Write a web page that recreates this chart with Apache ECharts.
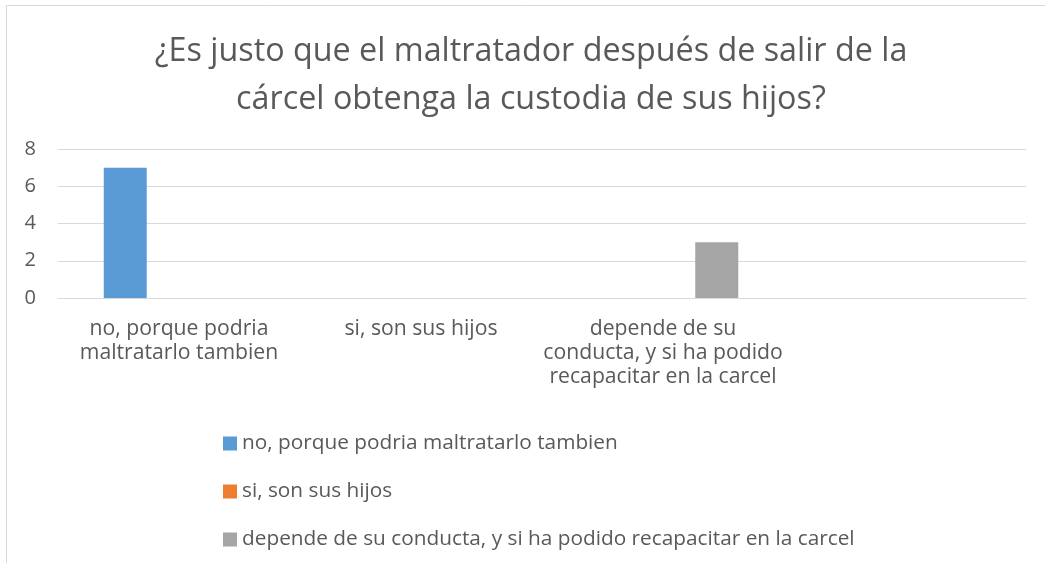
<!DOCTYPE html>
<html>
<head>
<meta charset="utf-8">
<script src="https://cdn.jsdelivr.net/npm/echarts@6/dist/echarts.min.js"></script>
<style>
  html, body { margin: 0; padding: 0; background: #fff; }
  #chart { width: 1045px; height: 563px; }
</style>
</head>
<body>
<div id="chart"></div>
<script>
  // categories (4th slot is empty in the original sheet)
  const categories = ['no, porque podria\nmaltratarlo tambien', 'si, son sus hijos', 'depende de su\nconducta, y si ha podido\nrecapacitar en la carcel', '']
  const seriesNames = ['no, porque podria maltratarlo tambien', 'si, son sus hijos', 'depende de su conducta, y si ha podido recapacitar en la carcel']
  const noData = [7, null, null, null]
  const siData = [null, null, null, null]
  const dependeData = [null, null, 3, null]
  const yTicks = [0, 2, 4, 6, 8]
  const titleText = '¿Es justo que el maltratador después de salir de la\ncárcel obtenga la custodia de sus hijos?'

  const font = '"Open Sans", Lato, sans-serif'
  const textColor = '#595959'

  const myChart = echarts.init(document.getElementById('chart'))
  const option = {
    animation: false,
    color: ['#5b9bd5', '#ed7d31', '#a5a5a5'],
    textStyle: { fontFamily: font },
    graphic: [{
      type: 'rect',
      shape: { x: 6.5, y: 5.5, width: 1100, height: 700 },
      style: { fill: 'none', stroke: '#d9d9d9', lineWidth: 1 },
      silent: true
    }, {
      // title drawn as graphic text so it can sit slightly right of centre like the original
      type: 'text',
      x: 531,
      y: 28,
      silent: true,
      style: {
        text: titleText,
        align: 'center',
        verticalAlign: 'top',
        fontFamily: font,
        fontSize: 32.3,
        lineHeight: 48,
        fill: textColor
      }
    }],
    legend: {
      orient: 'vertical',
      left: 218,
      top: 428,
      itemWidth: 14,
      itemHeight: 14,
      itemGap: 27,
      icon: 'rect',
      data: seriesNames,
      textStyle: { fontFamily: font, fontSize: 20.8, color: textColor }
    },
    grid: {
      left: 58,
      right: 19,
      top: 149,
      bottom: 265,
      containLabel: false
    },
    xAxis: {
      type: 'category',
      data: categories,
      axisLine: { lineStyle: { color: '#d9d9d9' } },
      axisTick: { show: false },
      axisLabel: {
        interval: 0,
        margin: 19,
        fontFamily: font,
        fontSize: 21.2,
        color: textColor,
        lineHeight: 24
      }
    },
    yAxis: {
      type: 'value',
      min: yTicks[0],
      max: yTicks[yTicks.length - 1],
      interval: 2,
      axisLine: { show: false },
      axisTick: { show: false },
      splitLine: { lineStyle: { color: '#d9d9d9' } },
      axisLabel: {
        margin: 22,
        fontFamily: font,
        fontSize: 20,
        color: textColor
      }
    },
    series: [{
      name: seriesNames[0],
      type: 'bar',
      data: noData,
      barWidth: 43,
      barGap: '25%'
    }, {
      name: seriesNames[1],
      type: 'bar',
      data: siData,
      barWidth: 43,
      barGap: '25%'
    }, {
      name: seriesNames[2],
      type: 'bar',
      data: dependeData,
      barWidth: 43,
      barGap: '25%'
    }]
  }
  myChart.setOption(option)
</script>
</body>
</html>
